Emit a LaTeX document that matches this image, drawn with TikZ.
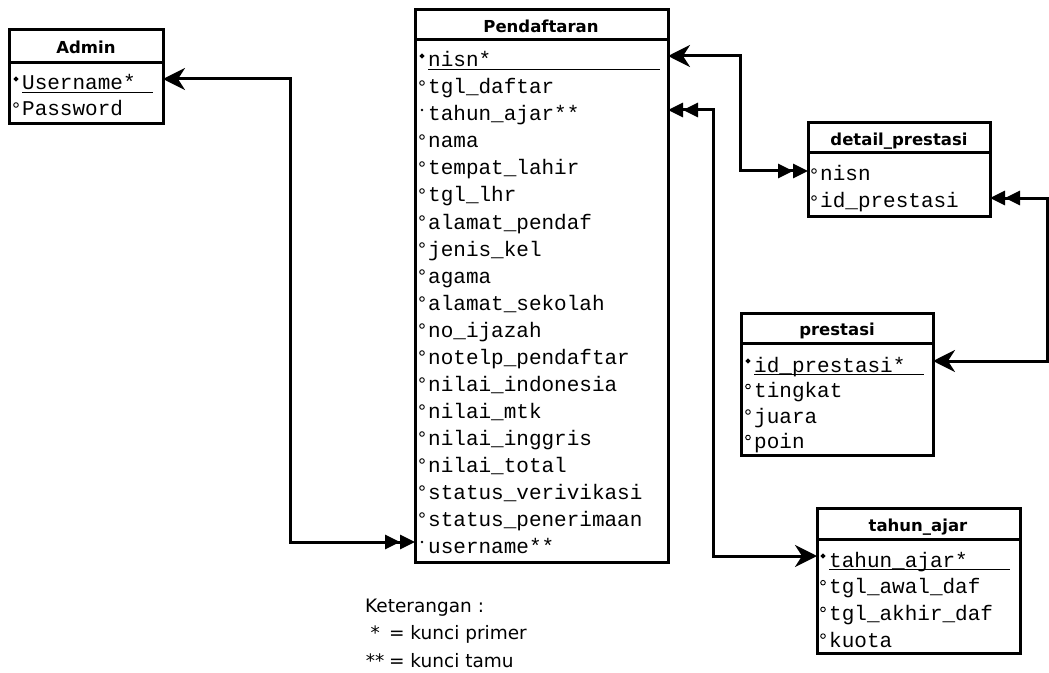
\documentclass[tikz,border=0pt]{standalone}
\usepackage{fontspec}
\setmainfont{DejaVu Sans}
\setsansfont{DejaVu Sans}
\setmonofont{Liberation Mono}
\usetikzlibrary{arrows.meta,shapes.geometric}
\tikzset{
  tbox/.style={draw, line width=3bp, anchor=north west, inner sep=0pt, outer sep=0pt, fill=white},
  sepline/.style={line width=3bp},
  thead/.style={anchor=base, inner sep=0pt, font=\fontsize{16.5bp}{19bp}\selectfont\bfseries},
  row/.style={anchor=base west, inner sep=0pt, font=\fontsize{21bp}{24bp}\selectfont\ttfamily},
  pkmark/.style={diamond, fill, inner sep=0pt, minimum size=5.5bp},
  fkmark/.style={circle, fill, inner sep=0pt, minimum size=2.6bp},
  atmark/.style={circle, draw, line width=0.9bp, inner sep=0pt, minimum size=4.6bp},
  uline/.style={line width=1.5bp},
  conn/.style={line width=3bp},
  ket/.style={anchor=base west, inner sep=0pt, font=\fontsize{18.5bp}{21bp}\selectfont},
  barb/.tip={Stealth[length=22bp,width=22bp,inset=7bp]},
  dbl/.tip={Triangle[length=15bp,width=14bp]Triangle[length=15bp,width=14bp]}
}
\begin{document}
\begin{tikzpicture}[x=1bp,y=-1bp]
\useasboundingbox (0,0) rectangle (1049,673);
\fill[white] (0,0) rectangle (1049,673);

% ---------- Admin ----------
\node[tbox, minimum width=154bp, minimum height=93bp] (adbox) at (9,30) {};
\draw[sepline] (adbox.west |- 0,63) -- (adbox.east |- 0,63);
\node[thead] (adh) at (86,54) {Admin};
\foreach \m/\t [count=\i] in {pkmark/Username*, atmark/Password}{
  \node[row] (ad\i) at (22,{90+26*(\i-1)}) {\t};
  \node[\m] (mad\i) at (16,{79+26*(\i-1)}) {};
}
\draw[uline] (22,92.5) -- (153,92.5);

% ---------- Pendaftaran ----------
\node[tbox, minimum width=253bp, minimum height=552bp] (pdbox) at (415,10) {};
\draw[sepline] (pdbox.west |- 0,40) -- (pdbox.east |- 0,40);
\node[thead] (pdh) at (541,32.5) {Pendaftaran};
\foreach \m/\t [count=\i] in {pkmark/nisn*, atmark/tgl\_daftar, fkmark/tahun\_ajar**,
  atmark/nama, atmark/tempat\_lahir, atmark/tgl\_lhr, atmark/alamat\_pendaf,
  atmark/jenis\_kel, atmark/agama, atmark/alamat\_sekolah, atmark/no\_ijazah,
  atmark/notelp\_pendaftar, atmark/nilai\_indonesia, atmark/nilai\_mtk,
  atmark/nilai\_inggris, atmark/nilai\_total, atmark/status\_verivikasi,
  atmark/status\_penerimaan, fkmark/username**}{
  \node[row] (pd\i) at (428,{67+27*(\i-1)}) {\t};
  \node[\m] (mpd\i) at (422,{56+27*(\i-1)}) {};
}
\draw[uline] (428,69.5) -- (660,69.5);

% ---------- detail_prestasi ----------
\node[tbox, minimum width=182bp, minimum height=93bp] (dpbox) at (808,123) {};
\draw[sepline] (dpbox.west |- 0,153) -- (dpbox.east |- 0,153);
\node[thead] (dph) at (899,145.5) {detail\_prestasi};
\foreach \m/\t [count=\i] in {atmark/nisn, atmark/id\_prestasi}{
  \node[row] (dp\i) at (820,{181+27*(\i-1)}) {\t};
  \node[\m] (mdp\i) at (814,{171+27*(\i-1)}) {};
}

% ---------- prestasi ----------
\node[tbox, minimum width=192bp, minimum height=142bp] (prbox) at (741,313) {};
\draw[sepline] (prbox.west |- 0,343) -- (prbox.east |- 0,343);
\node[thead] (prh) at (837,335.5) {prestasi};
\foreach \m/\t [count=\i] in {pkmark/id\_prestasi*, atmark/tingkat, atmark/juara, atmark/poin}{
  \node[row] (pr\i) at (754,{372+25.5*(\i-1)}) {\t};
  \node[\m] (mpr\i) at (748,{361+25.5*(\i-1)}) {};
}
\draw[uline] (754,374.5) -- (924,374.5);

% ---------- tahun_ajar ----------
\node[tbox, minimum width=203bp, minimum height=145bp] (tabox) at (817,508) {};
\draw[sepline] (tabox.west |- 0,539) -- (tabox.east |- 0,539);
\node[thead] (tah) at (918,531) {tahun\_ajar};
\foreach \m/\t [count=\i] in {pkmark/tahun\_ajar*, atmark/tgl\_awal\_daf, atmark/tgl\_akhir\_daf, atmark/kuota}{
  \node[row] (ta\i) at (829,{567+26.7*(\i-1)}) {\t};
  \node[\m] (mta\i) at (823,{556+26.7*(\i-1)}) {};
}
\draw[uline] (829,569.5) -- (1010,569.5);

% ---------- connectors ----------
\draw[conn, barb-dbl] (adbox.east |- mad1) -- ++(127,0) |- (pdbox.west |- mpd19);
\draw[conn, barb-dbl] (pdbox.east |- mpd1) -- ++(72,0) |- (dpbox.west |- mdp1);
\draw[conn, dbl-barb] (pdbox.east |- mpd3) -- ++(45,0) |- (tabox.west |- mta1);
\draw[conn, dbl-barb] (dpbox.east |- mdp2) -- ++(57,0) |- (prbox.east |- mpr1);

% ---------- Keterangan ----------
\node[ket] (k1) at (365,612) {Keterangan :};
\node[ket] (k2) at (367,639) {\hbox to 16bp{\hss*\hss}\ = kunci primer};
\node[ket] (k3) at (367,667) {\hbox to 16bp{\hss**\hss}\ = kunci tamu};
\end{tikzpicture}
\end{document}
